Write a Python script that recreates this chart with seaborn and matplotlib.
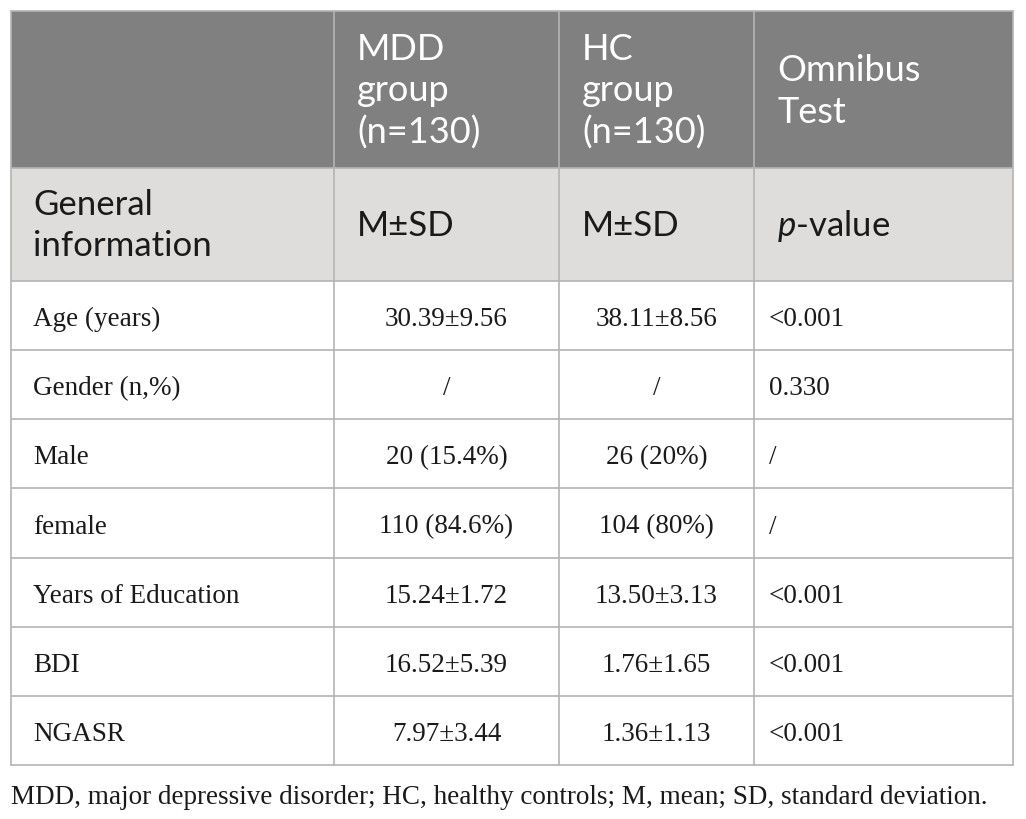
import matplotlib
matplotlib.use("Agg")
import matplotlib.pyplot as plt
import seaborn as sns
from matplotlib.patches import Rectangle

# table content
header_cols = ["MDD\ngroup\n(n=130)", "HC\ngroup\n(n=130)", "Omnibus\nTest"]
sub_first = "General\ninformation"
sub_cols = ["M±SD", "M±SD", "$p$-value"]
row_labels = ["Age (years)", "Gender (n,%)", "Male", "female",
              "Years of Education", "BDI", "NGASR"]
mdd_vals = ["30.39±9.56", "/", "20 (15.4%)", "110 (84.6%)",
            "15.24±1.72", "16.52±5.39", "7.97±3.44"]
hc_vals = ["38.11±8.56", "/", "26 (20%)", "104 (80%)",
           "13.50±3.13", "1.76±1.65", "1.36±1.13"]
p_vals = ["<0.001", "0.330", "/", "/", "<0.001", "<0.001", "<0.001"]
footnote = "MDD, major depressive disorder; HC, healthy controls; M, mean; SD, standard deviation."

sns.set_theme(style="white")
plt.rcParams["font.family"] = ["Lato", "DejaVu Sans"]
plt.rcParams["mathtext.fontset"] = "custom"
plt.rcParams["mathtext.it"] = "Lato:italic"
plt.rcParams["mathtext.rm"] = "Lato"

# layout (pixels)
col_x = [11, 334, 559, 754, 1013]
y_top, y_head, y_sub, y_bot = 11, 168, 281, 765
row_h = (y_bot - y_sub) / len(row_labels)
line_c = "#b4b4b4"
txt_c = "#1a1a1a"
sans = ["Lato", "DejaVu Sans"]
serif = ["Liberation Serif", "DejaVu Serif"]
body_fs = 19.5

fig = plt.figure(figsize=(10.26, 8.19), dpi=100)
ax = fig.add_axes([0, 0, 1, 1])
ax.set_xlim(0, 1026)
ax.set_ylim(819, 0)
ax.axis("off")

# backgrounds
ax.add_patch(Rectangle((col_x[0], y_top), col_x[-1] - col_x[0], y_head - y_top,
                       facecolor="#808080", edgecolor="none"))
ax.add_patch(Rectangle((col_x[0], y_head), col_x[-1] - col_x[0], y_sub - y_head,
                       facecolor="#dfdddc", edgecolor="none"))

# grid lines
for x in col_x:
    ax.plot([x, x], [y_top, y_bot], color=line_c, lw=1.2)
hlines = [y_top, y_head, y_sub] + [y_sub + row_h * (i + 1) for i in range(len(row_labels))]
for y in hlines:
    ax.plot([col_x[0], col_x[-1]], [y, y], color=line_c, lw=1.2)

# header
hc = (y_top + y_head) / 2 + 2
for i, t in enumerate(header_cols):
    ax.text(col_x[i + 1] + 23, hc, t, color="white", fontsize=26, family=sans,
            va="center", ha="left", linespacing=1.3)

sc = (y_head + y_sub) / 2 + 1
ax.text(col_x[0] + 22, sc, sub_first, color=txt_c, fontsize=25, family=sans,
        va="center", ha="left", linespacing=1.32)
for i, t in enumerate(sub_cols):
    ax.text(col_x[i + 1] + 23, sc, t, color=txt_c, fontsize=25, family=sans,
            va="center", ha="left")

# body
for r in range(len(row_labels)):
    yc = y_sub + row_h * (r + 0.5) + 4
    ax.text(col_x[0] + 22, yc, row_labels[r], fontsize=body_fs, family=serif,
            color=txt_c, va="center", ha="left")
    ax.text((col_x[1] + col_x[2]) / 2, yc, mdd_vals[r], fontsize=body_fs, family=serif,
            color=txt_c, va="center", ha="center")
    ax.text((col_x[2] + col_x[3]) / 2, yc, hc_vals[r], fontsize=body_fs, family=serif,
            color=txt_c, va="center", ha="center")
    ax.text(col_x[3] + 15, yc, p_vals[r], fontsize=body_fs, family=serif,
            color=txt_c, va="center", ha="left")

ax.text(col_x[0], 797, footnote, fontsize=19.5, family=serif, color=txt_c,
        va="center", ha="left")

fig.savefig("out.png", dpi=100)
